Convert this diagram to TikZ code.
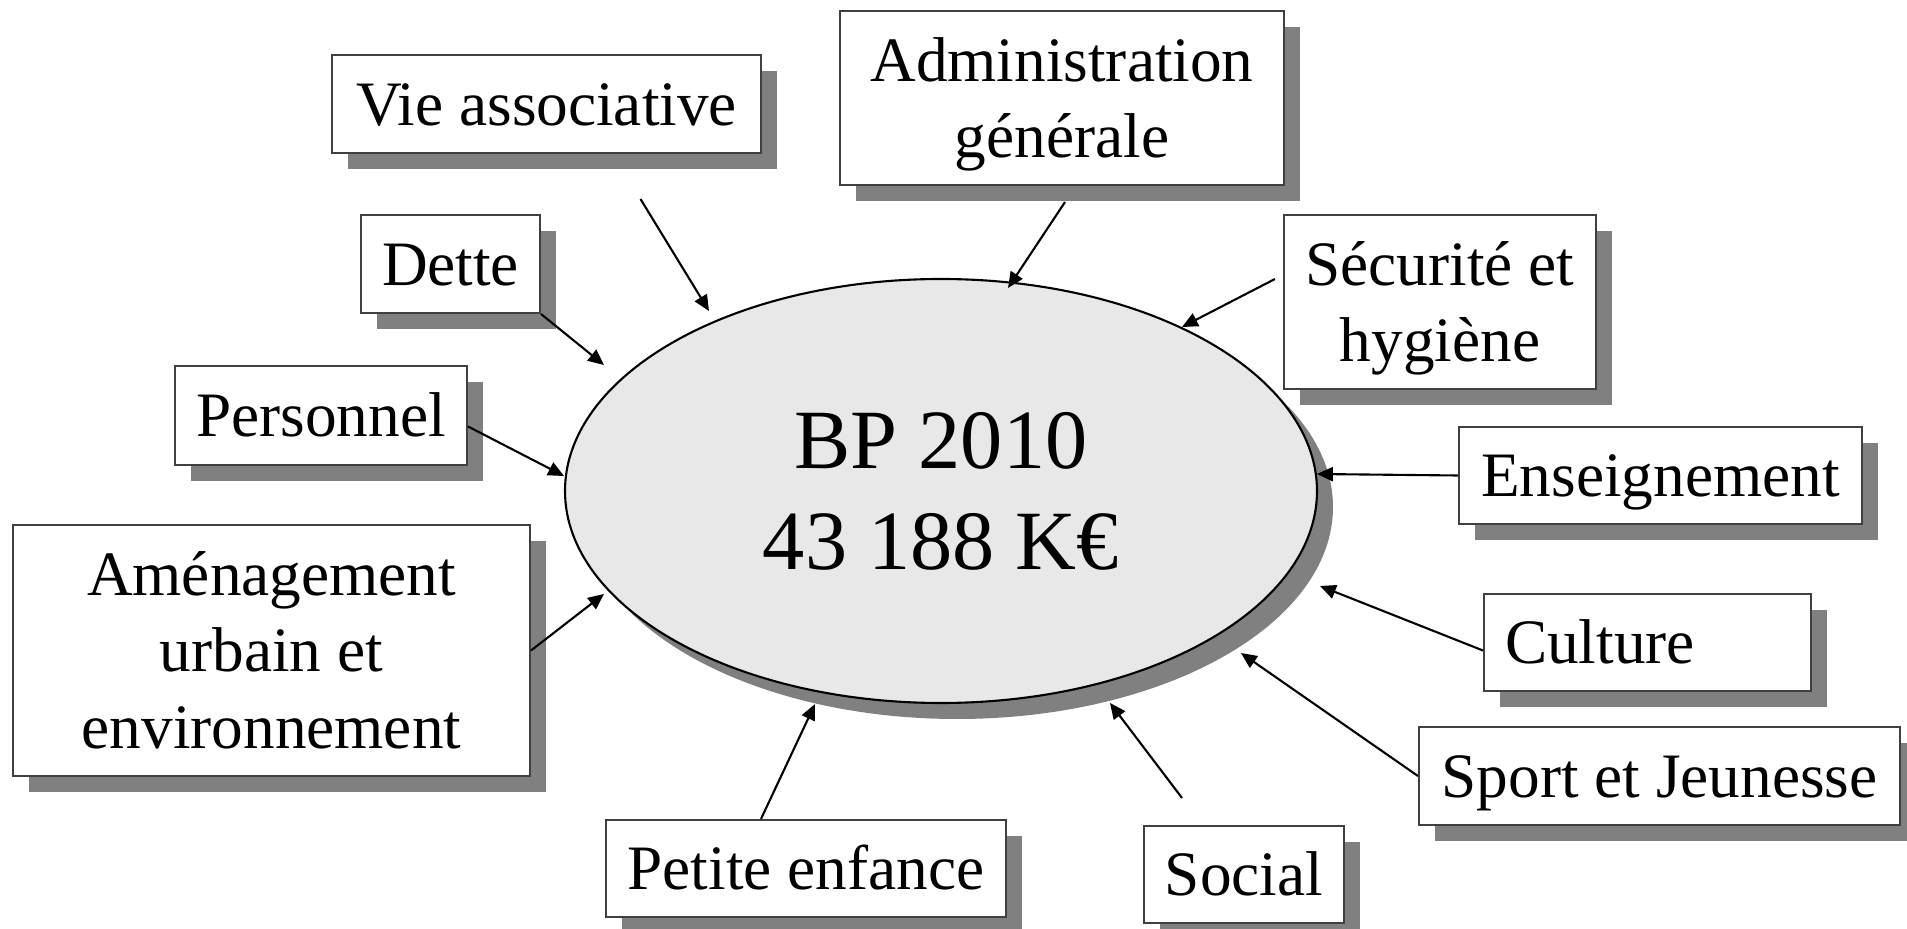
\documentclass[tikz,border=0pt]{standalone}
\usepackage{fontspec}
\setmainfont{Liberation Serif}
\usetikzlibrary{shapes.geometric,shadows,arrows.meta}
\definecolor{bpgray}{RGB}{232,232,232}
\newcommand{\ppstr}{\rule[-3.9pt]{0pt}{19.9pt}}

\begin{document}
\begin{tikzpicture}[
bx/.style = {draw=black!75,line width=0.6pt,fill=white,align=center,inner sep=2pt,
  font=\fontsize{18}{21.7}\selectfont,
  drop shadow={shadow xshift=0.16cm,shadow yshift=-0.16cm,fill=black!50,opacity=1}},
bp/.style = {draw,ellipse,line width=0.6pt,fill=bpgray,inner sep=0pt,
  minimum width=7.52cm,minimum height=4.24cm,align=center,
  font=\fontsize{24}{28.7}\selectfont,
  drop shadow={shadow xshift=0.16cm,shadow yshift=-0.16cm,fill=black!50,opacity=1}},
arr/.style = {draw,line width=0.6pt,-{Triangle[length=4.5pt,width=4pt]}}
]
  \useasboundingbox (0,0) rectangle (19.07,9.29);

  \node[bp] (bp) at (9.41,4.38) {BP 2010\\43 188 K€};

  \node[bx,minimum width=4.29cm,minimum height=0.98cm] (viea) at (5.465,8.25) {\ppstr Vie associative\ppstr};
  \node[bx,minimum width=4.44cm,minimum height=1.74cm] (admin) at (10.62,8.31) {\ppstr Administration\\générale\ppstr};
  \node[bx,minimum width=1.79cm,minimum height=0.98cm] (dette) at (4.505,6.65) {\ppstr Dette\ppstr};
  \node[bx,minimum width=3.12cm,minimum height=1.74cm] (secu) at (14.40,6.27) {\ppstr Sécurité et\\hygiène\ppstr};
  \node[bx,minimum width=2.92cm,minimum height=0.99cm] (perso) at (3.21,5.135) {\ppstr Personnel\ppstr};
  \node[bx,minimum width=4.03cm,minimum height=0.97cm] (ensei) at (16.605,4.535) {\ppstr Enseignement\ppstr};
  \node[bx,minimum width=5.17cm,minimum height=2.51cm] (amena) at (2.715,2.785) {\ppstr Aménagement\\urbain et\\environnement\ppstr};
  \node[bx,minimum width=3.27cm,minimum height=0.97cm,text width=2.85cm,inner xsep=0.21cm,align=left] (cultu) at (16.475,2.865) {\ppstr Culture\ppstr};
  \node[bx,minimum width=4.81cm,minimum height=0.98cm] (sport) at (16.595,1.53) {\ppstr Sport et Jeunesse\ppstr};
  \node[bx,minimum width=4.00cm,minimum height=0.97cm] (petit) at (8.06,0.605) {\ppstr Petite enfance\ppstr};
  \node[bx,minimum width=2.00cm,minimum height=0.97cm] (soci) at (12.44,0.545) {\ppstr Social\ppstr};

  % arrow tips near the ellipse
  \coordinate (tviea) at (7.09,6.18);
  \coordinate (tadmin) at (10.08,6.41);
  \coordinate (tdette) at (6.04,5.64);
  \coordinate (tsecu) at (11.82,6.02);
  \coordinate (tperso) at (5.64,4.53);
  \coordinate (tensei) at (13.17,4.55);
  \coordinate (tamena) at (6.04,3.35);
  \coordinate (tcultu) at (13.20,3.43);
  \coordinate (tsport) at (12.41,2.76);
  \coordinate (tpetit) at (8.15,2.25);
  \coordinate (tsoci) at (11.10,2.26);

  \path[arr] ([xshift=0.94cm,yshift=-0.45cm]viea.south) -- (tviea);
  \path[arr] ([xshift=0.03cm,yshift=-0.16cm]admin.south) -- (tadmin);
  \path[arr] (dette.south east) -- (tdette);
  \path[arr] ([xshift=-0.08cm,yshift=0.23cm]secu.west) -- (tsecu);
  \path[arr] ([yshift=-0.11cm]perso.east) -- (tperso);
  \path[arr] (ensei.west) -- (tensei);
  \path[arr] (amena.east) -- (tamena);
  \path[arr] ([yshift=-0.08cm]cultu.west) -- (tcultu);
  \path[arr] (sport.west) -- (tsport);
  \path[arr] ([xshift=-0.45cm]petit.north) -- (tpetit);
  \path[arr] ([xshift=-0.62cm,yshift=0.27cm]soci.north) -- (tsoci);

\end{tikzpicture}
\end{document}
